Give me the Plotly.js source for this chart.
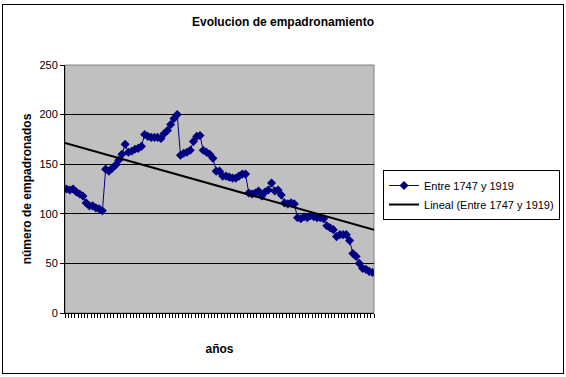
<!DOCTYPE html>
<html>
<head>
<meta charset="utf-8">
<script src="https://cdn.plot.ly/plotly-3.0.1.min.js"></script>
<style>
html,body{margin:0;padding:0;background:#fff;}
#wrap{position:relative;width:566px;height:377px;}
#chart{width:566px;height:377px;}
#frame{position:absolute;left:2px;top:4px;width:560px;height:368px;border:1px solid #000;pointer-events:none;}
</style>
</head>
<body>
<div id="wrap"><div id="chart"></div><div id="frame"></div></div>
<script>
const seriesName = "Entre 1747 y 1919";
const trendName = "Lineal (Entre 1747 y 1919)";
const titleText = "Evolucion de empadronamiento";
const xTitle = "años";
const yTitle = "número de empadronados";
const empadronados = [
 125,124,125,122,120,118,111,108,108,106,
 105,103,145,143,146,149,154,160,170,162,
 163,165,166,168,180,178,177,177,177,176,
 181,184,190,196,200,159,161,162,164,173,
 178,179,164,162,160,156,143,143,138,138,
 137,136,136,138,140,140,121,120,121,123,
 118,122,124,131,123,124,119,111,110,111,
 110,96,95,97,96,98,97,96,96,95,
 88,86,84,77,79,79,79,73,60,57,
 50,45,44,42,41
];
const idx = empadronados.map((_, i) => i);
const yTicks = [0, 50, 100, 150, 200, 250];

// least-squares linear trend (Excel "Lineal")
const n = empadronados.length;
const mx = idx.reduce((a, b) => a + b, 0) / n;
const my = empadronados.reduce((a, b) => a + b, 0) / n;
let sxy = 0, sxx = 0;
for (let i = 0; i < n; i++) { sxy += (idx[i] - mx) * (empadronados[i] - my); sxx += (idx[i] - mx) ** 2; }
const slope = sxy / sxx, icpt = my - slope * mx;
const tx = [-0.5, n - 0.5];
const ty = tx.map(x => icpt + slope * x);

const font = {family: "Liberation Sans, Arial, sans-serif", color: "#000"};
const data = [
  {x: idx, y: empadronados, type: "scatter", mode: "lines+markers", name: seriesName,
   line: {color: "#000080", width: 1}, marker: {symbol: "diamond", size: 7, color: "#000080"}},
  {x: tx, y: ty, type: "scatter", mode: "lines", name: trendName,
   line: {color: "#000000", width: 2}}
];
const layout = {
  width: 566, height: 377,
  margin: {l: 65, r: 192, t: 65, b: 64},
  paper_bgcolor: "#ffffff", plot_bgcolor: "#c0c0c0",
  showlegend: true,
  title: {text: "<b>" + titleText + "</b>", x: 0.5, xref: "container", xanchor: "center",
          y: 0.942, yref: "container", yanchor: "middle",
          font: Object.assign({size: 12}, font)},
  xaxis: {range: [-0.5, n - 0.5], showgrid: false, zeroline: false, showline: true, linecolor: "#000", linewidth: 1,
          ticks: "outside", ticklen: 4, tickcolor: "#000", tick0: -0.5, dtick: 1, showticklabels: false,
          title: {text: "<b>" + xTitle + "</b>", font: Object.assign({size: 12}, font), standoff: 27}},
  yaxis: {range: [0, 250], tickvals: yTicks, showgrid: true, gridcolor: "#000", gridwidth: 1, zeroline: false,
          showline: true, linecolor: "#000", linewidth: 1, ticks: "outside", ticklen: 4, tickcolor: "#000",
          tickfont: Object.assign({size: 11}, font),
          title: {text: "<b>" + yTitle + "</b>", font: Object.assign({size: 12}, font), standoff: 5}},
  legend: {xref: "container", yref: "container", x: 0.6767, xanchor: "left", y: 0.549, yanchor: "top",
           bgcolor: "#fff", bordercolor: "#000", borderwidth: 1, itemwidth: 30,
           font: Object.assign({size: 11}, font), tracegroupgap: 0},
  shapes: [{type: "rect", xref: "paper", yref: "paper", x0: 0, x1: 1, y0: 0, y1: 1, line: {color: "#808080", width: 1}, layer: "below"}],
  hovermode: false
};
Plotly.newPlot("chart", data, layout, {staticPlot: true, displayModeBar: false});
</script>
</body>
</html>
